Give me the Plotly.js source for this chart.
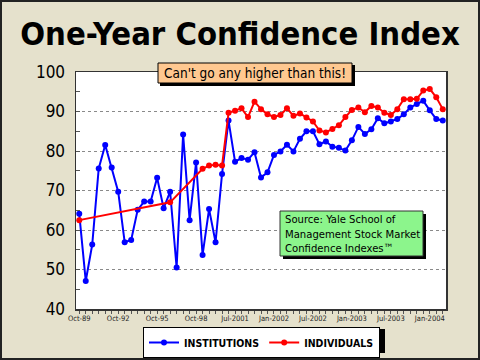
<!DOCTYPE html>
<html><head><meta charset="utf-8">
<script src="https://cdn.plot.ly/plotly-3.0.1.min.js"></script>
<style>html,body{margin:0;padding:0;background:#E6E2CE;}</style>
</head><body><div id="chart" style="width:480px;height:360px;"></div>
<script>
const categories = ['Oct-89','Apr-90','Oct-90','Apr-91','Oct-91','Apr-92','Oct-92','Apr-93','Oct-93','Apr-94','Oct-94','Apr-95','Oct-95','Apr-96','Oct-96','Apr-97','Oct-97','Apr-98','Oct-98','Apr-99','Oct-99','Apr-00','Oct-00','Apr-01',
  'Jul-2001','Aug-2001','Sep-2001','Oct-2001','Nov-2001','Dec-2001',
  'Jan-2002','Feb-2002','Mar-2002','Apr-2002','May-2002','Jun-2002','Jul-2002','Aug-2002','Sep-2002','Oct-2002','Nov-2002','Dec-2002',
  'Jan-2003','Feb-2003','Mar-2003','Apr-2003','May-2003','Jun-2003','Jul-2003','Aug-2003','Sep-2003','Oct-2003','Nov-2003','Dec-2003',
  'Jan-2004','Feb-2004','Mar-2004'];
const institutions = [64.1,47.1,56.3,75.6,81.5,75.8,69.7,56.9,57.5,65.1,67.2,67.2,73.2,65.5,69.7,50.5,84.2,62.5,77.1,53.7,65.3,56.9,74.2,87.7,
  77.3,78.2,77.8,79.7,73.3,74.6,
  79.0,79.9,81.6,79.9,83.1,85.0,85.0,81.7,82.4,81.1,80.8,80.1,
  82.7,86.1,84.3,85.5,88.3,87.0,87.5,88.1,89.3,91.0,91.9,92.7,
  90.3,88.1,87.7];
const individuals = [62.5,null,null,null,null,null,null,null,null,null,null,null,null,null,67.0,null,null,null,null,75.5,76.3,76.5,76.3,89.7,
  90.2,90.8,88.6,92.5,90.6,89.3,
  88.6,89.1,90.8,88.9,89.5,88.5,87.5,85.2,84.7,85.6,86.5,88.6,
  90.4,91.0,89.8,91.4,91.0,89.7,89.1,90.6,93.1,93.1,93.2,95.3,
  95.7,93.6,90.6];
const tickLabels = ['Oct-89','Oct-92','Oct-95','Oct-98','Jul-2001','Jan-2002','Jul-2002','Jan-2003','Jul-2003','Jan-2004'];
const seriesNames = ['INSTITUTIONS','INDIVIDUALS'];
const titleText = 'One-Year Confidence Index';
const calloutText = "Can't go any higher than this!";
const sourceText = 'Source: Yale School of<br>Management Stock Market<br>Confidence Indexes™';

const FONT = '"DejaVu Sans Condensed", "DejaVu Sans", sans-serif';
const M = {l:76, r:34, t:72, b:51, autoexpand:false};
const W = 480 - M.l - M.r, H = 360 - M.t - M.b;
const px = x => (x - M.l) / W;
const py = y => (M.t + H - y) / H;
function rect(x0, y0, x1, y1, fill, line, lw) {
  return {type:'rect', xref:'paper', yref:'paper', x0:px(x0), x1:px(x1), y0:py(y1), y1:py(y0),
          fillcolor:fill, line:{color:line, width:lw}, layer:'above'};
}

const traces = [
  {type:'scatter', mode:'lines+markers', name:seriesNames[0], x:categories, y:institutions,
   line:{color:'#0000FF', width:2}, marker:{color:'#0000FF', size:6, symbol:'circle'}},
  {type:'scatter', mode:'lines+markers', name:seriesNames[1], x:categories, y:individuals, connectgaps:true,
   line:{color:'#FF0000', width:2}, marker:{color:'#FF0000', size:6, symbol:'circle'}}
];

const layout = {
  width:480, height:360, margin:M,
  paper_bgcolor:'#E5E1CC', plot_bgcolor:'#FFFFFF',
  font:{family:FONT, color:'#000'},
  title:{text:titleText, font:{family:FONT, size:32.5, weight:700, color:'#000'},
         x:0.5, xref:'container', xanchor:'center', y:1-34/360, yref:'container', yanchor:'middle'},
  xaxis:{type:'category', categoryorder:'array', categoryarray:categories, range:[-0.5, categories.length-0.5],
         tickmode:'array', tickvals:categories, ticktext:categories.map(c => tickLabels.includes(c) ? c : ''),
         ticks:'outside', ticklen:3, tickcolor:'#555', tickangle:0, ticklabelstandoff:-2,
         tickfont:{family:FONT, size:7.5, color:'#222'},
         showline:true, mirror:true, linecolor:'#333', linewidth:1.5, showgrid:false, zeroline:false, fixedrange:true},
  yaxis:{range:[40,100], dtick:10, tick0:40, ticks:'inside', ticklen:4, tickcolor:'#555',
         minor:{dtick:5, ticks:'inside', ticklen:4, tickcolor:'#555', showgrid:false},
         tickfont:{family:FONT, size:17, color:'#000'}, ticklabelstandoff:6,
         showline:true, mirror:true, linecolor:'#333', linewidth:1.5,
         showgrid:true, gridcolor:'#8a8a8a', griddash:'dot', gridwidth:1, zeroline:false, fixedrange:true},
  showlegend:true,
  legend:{orientation:'h', x:px(261.5), xanchor:'center', y:py(327), yanchor:'top',
          bgcolor:'#FFFFFF', bordercolor:'#000', borderwidth:1, tracegroupgap:0,
          font:{family:FONT, size:10.5, weight:700, color:'#000'}, itemwidth:30},
  shapes:[
    rect(145, 329, 385, 353, '#000', '#000', 0),
    rect(160, 65, 355, 86, '#000', '#000', 0),
    rect(158, 63, 352, 83, '#FFC890', '#000', 1),
    rect(283, 214, 426, 259, '#000', '#000', 0),
    rect(280, 211, 423, 256, '#8CF58C', '#333', 1),
    rect(1, 1, 479, 359, 'rgba(0,0,0,0)', '#222', 2)
  ],
  annotations:[
    {text:calloutText, xref:'paper', yref:'paper', x:px(255), y:py(73), xanchor:'center', yanchor:'middle',
     showarrow:false, font:{family:FONT, size:13.5, color:'#000'}},
    {text:sourceText, xref:'paper', yref:'paper', x:px(283), y:py(233.5), xanchor:'left', yanchor:'middle',
     align:'left', showarrow:false, font:{family:FONT, size:11.2, color:'#000'}}
  ]
};

Plotly.newPlot('chart', traces, layout, {displayModeBar:false, staticPlot:true});
</script></body></html>
